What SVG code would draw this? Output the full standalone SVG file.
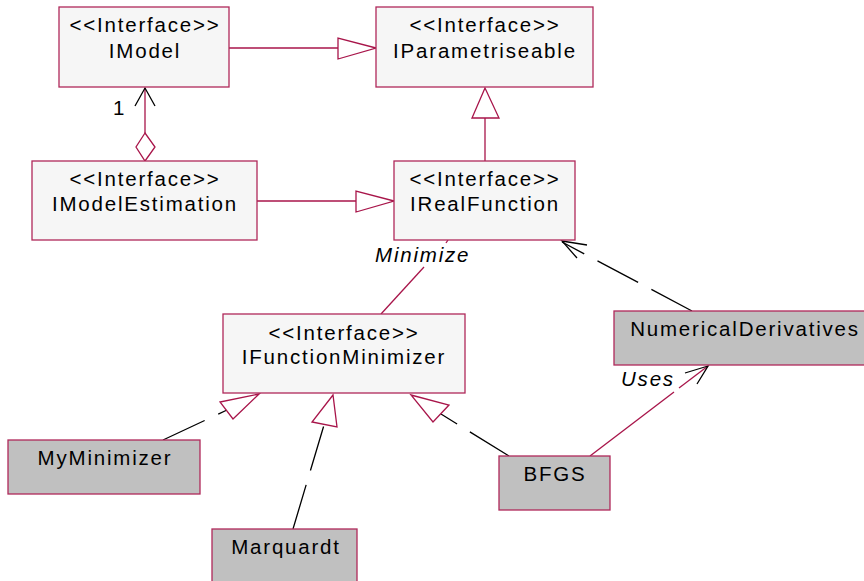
<svg xmlns="http://www.w3.org/2000/svg" width="864" height="581" viewBox="0 0 864 581">
<style>
.box{stroke:#b0285a;stroke-width:1.3}
.iface{fill:#f6f6f6}
.cls{fill:#c0c0c0}
text{font-family:"Liberation Sans",Arial,sans-serif;font-size:20.5px;fill:#000;letter-spacing:1.8px}
.c{text-anchor:middle}
.it{font-style:italic}
.ln{stroke:#a8154a;stroke-width:1.3;fill:none}
.dash{stroke:#000;stroke-width:1.3;fill:none;stroke-dasharray:46 15}
.tri{stroke:#a8154a;stroke-width:1.3;fill:#fff}
.open{stroke:#000;stroke-width:1.3;fill:none}
</style>
<rect width="864" height="581" fill="#fff"/>
<g id="connectors">
  <!-- IModel -> IParametriseable -->
  <line class="ln" x1="229" y1="48" x2="338" y2="48"/>
  <polygon class="tri" points="376,48 338,38 338,59"/>
  <!-- IRealFunction -> IParametriseable -->
  <line class="ln" x1="485" y1="118" x2="485" y2="161"/>
  <polygon class="tri" points="485,88 472,118 499,118"/>
  <!-- IModelEstimation -> IRealFunction -->
  <line class="ln" x1="257" y1="201" x2="356" y2="201"/>
  <polygon class="tri" points="394,201 356,191 356,212"/>
  <!-- aggregation IModelEstimation -> IModel -->
  <line class="ln" x1="145" y1="88" x2="145" y2="133"/>
  <polygon class="tri" points="145,133 136,147 145,161 155,147"/>
  <polyline class="open" points="135,106 145,88 155,106"/>
  <text x="113" y="115">1</text>
  <!-- Minimize -->
  <line class="ln" x1="448" y1="240" x2="446" y2="243"/>
  <line class="ln" x1="424" y1="267" x2="381" y2="314"/>
  <text class="it" x="375" y="262">Minimize</text>
  <!-- NumericalDerivatives -> IRealFunction (dependency) -->
  <line class="dash" x1="692" y1="311" x2="562" y2="242"/>
  <polyline class="open" points="587,245 562,241 577,258"/>
  <!-- BFGS -> NumericalDerivatives (Uses) -->
  <line class="ln" x1="590" y1="456" x2="674" y2="392"/>
  <line class="ln" x1="679" y1="388" x2="708" y2="366"/>
  <polyline class="open" points="685,373 708,366 697,384"/>
  <text class="it" x="621" y="386">Uses</text>
  <!-- MyMinimizer -> IFunctionMinimizer -->
  <line class="dash" x1="163" y1="440" x2="227" y2="410" stroke-dasharray="47 13"/>
  <polygon class="tri" points="259,394 220,402 233,419"/>
  <!-- Marquardt -> IFunctionMinimizer -->
  <line class="dash" x1="293" y1="529" x2="324" y2="425" stroke-dasharray="46 16"/>
  <polygon class="tri" points="333,395 312,422 337,427"/>
  <!-- BFGS -> IFunctionMinimizer -->
  <line class="dash" x1="509" y1="456" x2="441" y2="414" stroke-dasharray="46 13"/>
  <polygon class="tri" points="411,395 449,405 433,422"/>
</g>
<g id="IModel">
  <rect class="box iface" x="59" y="7" width="170" height="80"/>
  <text class="c" x="145" y="32">&lt;&lt;Interface&gt;&gt;</text>
  <text class="c" x="145" y="58">IModel</text>
</g>
<g id="IParametriseable">
  <rect class="box iface" x="376" y="7" width="217" height="80"/>
  <text class="c" x="485" y="32">&lt;&lt;Interface&gt;&gt;</text>
  <text class="c" x="485" y="58">IParametriseable</text>
</g>
<g id="IModelEstimation">
  <rect class="box iface" x="32" y="161" width="225" height="79"/>
  <text class="c" x="145" y="186">&lt;&lt;Interface&gt;&gt;</text>
  <text class="c" x="145" y="211">IModelEstimation</text>
</g>
<g id="IRealFunction">
  <rect class="box iface" x="394" y="161" width="181" height="79"/>
  <text class="c" x="485" y="186">&lt;&lt;Interface&gt;&gt;</text>
  <text class="c" x="485" y="211">IRealFunction</text>
</g>
<g id="IFunctionMinimizer">
  <rect class="box iface" x="223" y="314" width="242" height="79"/>
  <text class="c" x="344" y="340">&lt;&lt;Interface&gt;&gt;</text>
  <text class="c" x="344" y="364">IFunctionMinimizer</text>
</g>
<g id="NumericalDerivatives">
  <rect class="box cls" x="614" y="311" width="256" height="54"/>
  <text class="c" x="745" y="336">NumericalDerivatives</text>
</g>
<g id="MyMinimizer">
  <rect class="box cls" x="8" y="440" width="192" height="54"/>
  <text class="c" x="105" y="465">MyMinimizer</text>
</g>
<g id="BFGS">
  <rect class="box cls" x="499" y="456" width="111" height="54"/>
  <text class="c" x="555" y="481">BFGS</text>
</g>
<g id="Marquardt">
  <rect class="box cls" x="212" y="529" width="145" height="60"/>
  <text class="c" x="286" y="554">Marquardt</text>
</g>
</svg>
